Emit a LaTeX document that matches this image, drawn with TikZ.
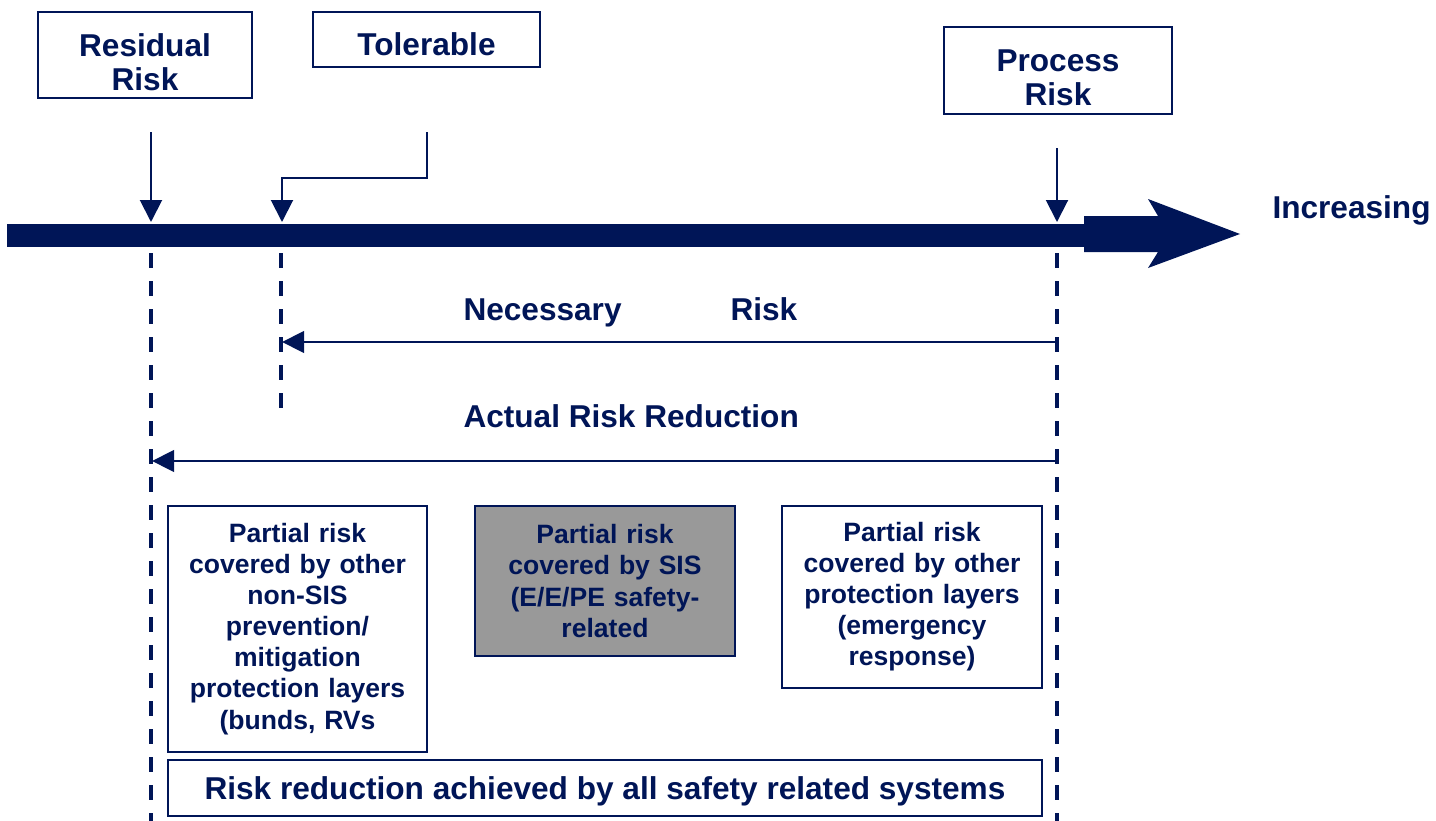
\documentclass[tikz,border=0pt]{standalone}
\usepackage{fontspec}
\setmainfont{Liberation Sans}
\usetikzlibrary{arrows.meta}
\definecolor{navy}{RGB}{0,21,87}
\definecolor{sisgray}{RGB}{153,153,153}

\tikzset{every picture/.style={line width=0.75pt}}
\tikzset{
  titlebox/.style={draw=navy, line width=1.9pt, inner sep=0pt},
  titletext/.style={text=navy, font=\bfseries\fontsize{23.7}{25.5}\selectfont, align=center, inner sep=0pt},
  layerbox/.style={draw=navy, line width=1.9pt, text=navy, inner sep=0pt, align=center,
    font=\bfseries\fontsize{19.9}{23.3}\selectfont},
  bigtext/.style={text=navy, font=\bfseries\fontsize{23.7}{25.5}\selectfont, inner sep=0pt},
  pointer/.style={draw=navy, line width=1.5pt, -{Triangle[length=16.5pt, width=16.5pt]}},
  span/.style={draw=navy, line width=2.2pt, -{Triangle[length=16.5pt, width=16pt]}},
  guide/.style={draw=navy, line width=2.5pt, dash pattern=on 11.25pt off 9.75pt}
}

\begin{document}
\begin{tikzpicture}[x=0.75pt,y=0.75pt,yscale=-1,xscale=1]
\useasboundingbox (0,0) rectangle (1436,821);

% Title boxes
\node [titlebox, minimum width=160.5pt, minimum height=64.5pt] (resid) at (145,55) {};
\node [titletext] (resid txt) at ([yshift=5.25pt]resid.center) {Residual\\Risk};
\node [titlebox, minimum width=170.25pt, minimum height=41.25pt] (tol) at (426.5,39.5) {};
\node [titletext] (tol txt) at ([yshift=3.75pt]tol.center) {Tolerable};
\node [titlebox, minimum width=171pt, minimum height=65.25pt] (proc) at (1058,70.5) {};
\node [titletext] (proc txt) at ([yshift=5.25pt]proc.center) {Process\\Risk};

% Points on the risk axis
\coordinate (resid top) at (151,132);
\coordinate (resid pt) at (151,222);
\coordinate (tol top) at (427,132);
\coordinate (tol bend) at (282,178);
\coordinate (tol pt) at (282,222);
\coordinate (proc top) at (1057,148);
\coordinate (proc pt) at (1057,222);

%Pointers
\draw [pointer] (resid top) -- (resid pt);
\draw [pointer] (tol top) |- (tol bend) -- (tol pt);
\draw [pointer] (proc top) -- (proc pt);

%Risk axis
\fill [navy] (7,224) rectangle (1085,247);
\fill [navy] (1084,216) -- (1158,216) -- (1148,199) -- (1240,234) -- (1148,268) -- (1158,252) -- (1084,252) -- cycle;
% Text Node
\node [bigtext, anchor=base west] (incr) at (1272,218) {Increasing};

%Dashed guides
\draw [guide] (151,253) -- (151,821);
\draw [guide] (281,253) -- (281,410);
\draw [guide] (1057,253) -- (1057,821);

% Text Node
\node [bigtext, anchor=base west] (nec) at (463,320) {Necessary};
\node [bigtext, anchor=base west] (nec risk) at (730,320) {Risk};
\coordinate (nec start) at (1057,342);
\coordinate (nec end) at (282,342);
\draw [span] (nec start) -- (nec end);

% Text Node
\node [bigtext, anchor=base west] (actual) at (463,427) {Actual Risk Reduction};
\coordinate (act start) at (1057,461);
\coordinate (act end) at (152,461);
\draw [span] (act start) -- (act end);

% Protection layers
\node [layerbox, minimum width=194.25pt, minimum height=184.5pt, text width=185pt] (other) at (297.5,629)
  {Partial risk\\covered by other\\non-SIS\\prevention/\\mitigation\\protection layers\\(bunds, RVs};
\node [layerbox, fill=sisgray, minimum width=195pt, minimum height=112.5pt, text width=185pt] (sis) at (605,581)
  {Partial risk\\covered by SIS\\(E/E/PE safety-\\related};
\node [layerbox, minimum width=195pt, minimum height=136.5pt, text width=185pt] (emerg) at (912,597)
  {Partial risk\\covered by other\\protection layers\\(emergency\\response)};
\node [layerbox, minimum width=655.5pt, minimum height=42pt, text depth=0pt, font=\bfseries\fontsize{23.7}{25.5}\selectfont] (all) at (605,788)
  {Risk reduction achieved by all safety related systems};
\end{tikzpicture}
\end{document}
